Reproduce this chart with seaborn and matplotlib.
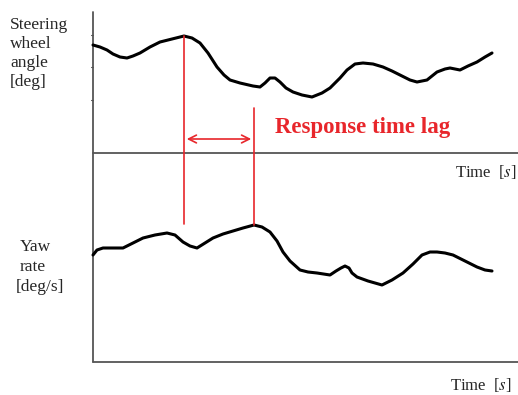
import matplotlib
matplotlib.use("Agg")
import matplotlib.pyplot as plt
import seaborn as sns
import pandas as pd

# Steering wheel angle trace (x, y in picture units)
steer_x = [93, 100, 107, 113, 120, 127, 133, 140, 150, 160, 172, 184, 192, 200, 208, 217, 224, 230, 240, 253, 260, 265, 270, 275, 280, 286, 293, 302, 312, 322, 330, 340, 347, 355, 363, 373, 383, 392, 400, 410, 417, 427, 432, 437, 445, 450, 460, 468, 477, 485, 492]
steer_y = [45, 47, 50, 54, 57, 58, 56, 53, 47, 42, 39, 36, 38, 43, 53, 67, 75, 80, 83, 86, 87, 83, 78, 78, 82, 88, 92, 95, 97, 93, 88, 78, 70, 64, 63, 64, 67, 71, 75, 80, 82, 80, 76, 72, 69, 68, 70, 66, 62, 57, 53]

# Yaw rate trace
yaw_x = [93, 97, 103, 113, 123, 133, 143, 155, 167, 175, 183, 190, 197, 205, 213, 223, 233, 243, 254, 262, 270, 277, 283, 290, 300, 308, 317, 330, 336, 341, 345, 349, 352, 357, 368, 382, 392, 403, 413, 422, 430, 437, 445, 453, 465, 477, 485, 492]
yaw_y = [255, 250, 248, 248, 248, 243, 238, 235, 233, 235, 242, 246, 248, 243, 238, 234, 231, 228, 225, 227, 232, 241, 252, 261, 270, 272, 273, 275, 271, 268, 266, 268, 273, 277, 281, 285, 280, 273, 264, 255, 252, 252, 253, 255, 261, 267, 270, 271]

# Event markers
t_peak_steer = 184
t_peak_yaw = 254
lag_label = "Response time lag"

sns.set_theme(style="white")
plt.rcParams['font.family'] = ['Liberation Serif', 'DejaVu Serif']
plt.rcParams['mathtext.fontset'] = 'stix'

fig = plt.figure(figsize=(5.18, 3.95), dpi=100)
ax = fig.add_axes([0, 0, 1, 1])
ax.set_xlim(0, 518)
ax.set_ylim(395, 0)
ax.axis('off')

axis_color = '#555555'
ax.plot([93, 93], [12, 362], color=axis_color, lw=1.3)
ax.plot([93, 518], [153, 153], color=axis_color, lw=1.3)
ax.plot([93, 518], [362, 362], color=axis_color, lw=1.3)
for ty in [35, 67, 100]:
    ax.plot([90.5, 93], [ty, ty], color=axis_color, lw=0.8)

df_s = pd.DataFrame({"x": steer_x, "y": steer_y})
df_y = pd.DataFrame({"x": yaw_x, "y": yaw_y})
sns.lineplot(data=df_s, x="x", y="y", sort=False, color='black', lw=2.2, ax=ax)
sns.lineplot(data=df_y, x="x", y="y", sort=False, color='black', lw=2.2, ax=ax)

red = '#e8262b'
ax.plot([t_peak_steer, t_peak_steer], [36, 224], color=red, lw=1.2)
ax.plot([t_peak_yaw, t_peak_yaw], [108, 225], color=red, lw=1.2)
ax.annotate('', xy=(t_peak_steer, 139), xytext=(t_peak_yaw, 139),
            arrowprops=dict(arrowstyle='<->', color=red, lw=1.2, mutation_scale=14))

ax.text(275, 128, lag_label, color=red, fontsize=16.5, fontweight='bold', va='center', ha='left')

fs = 12.5
ax.text(10, 25, "Steering", fontsize=fs, va='center', ha='left')
ax.text(10, 44, "wheel", fontsize=fs, va='center', ha='left')
ax.text(10, 63, "angle", fontsize=fs, va='center', ha='left')
ax.text(10, 82, "[deg]", fontsize=fs, va='center', ha='left')

ax.text(20, 247, "Yaw", fontsize=fs, va='center', ha='left')
ax.text(20, 267, "rate", fontsize=fs, va='center', ha='left')
ax.text(16, 287, "[deg/s]", fontsize=fs, va='center', ha='left')

ax.text(455, 172, "Time  [$s$]", fontsize=12, va='center', ha='left')
ax.text(450, 385, "Time  [$s$]", fontsize=12, va='center', ha='left')

fig.savefig("out.png", dpi=100)
